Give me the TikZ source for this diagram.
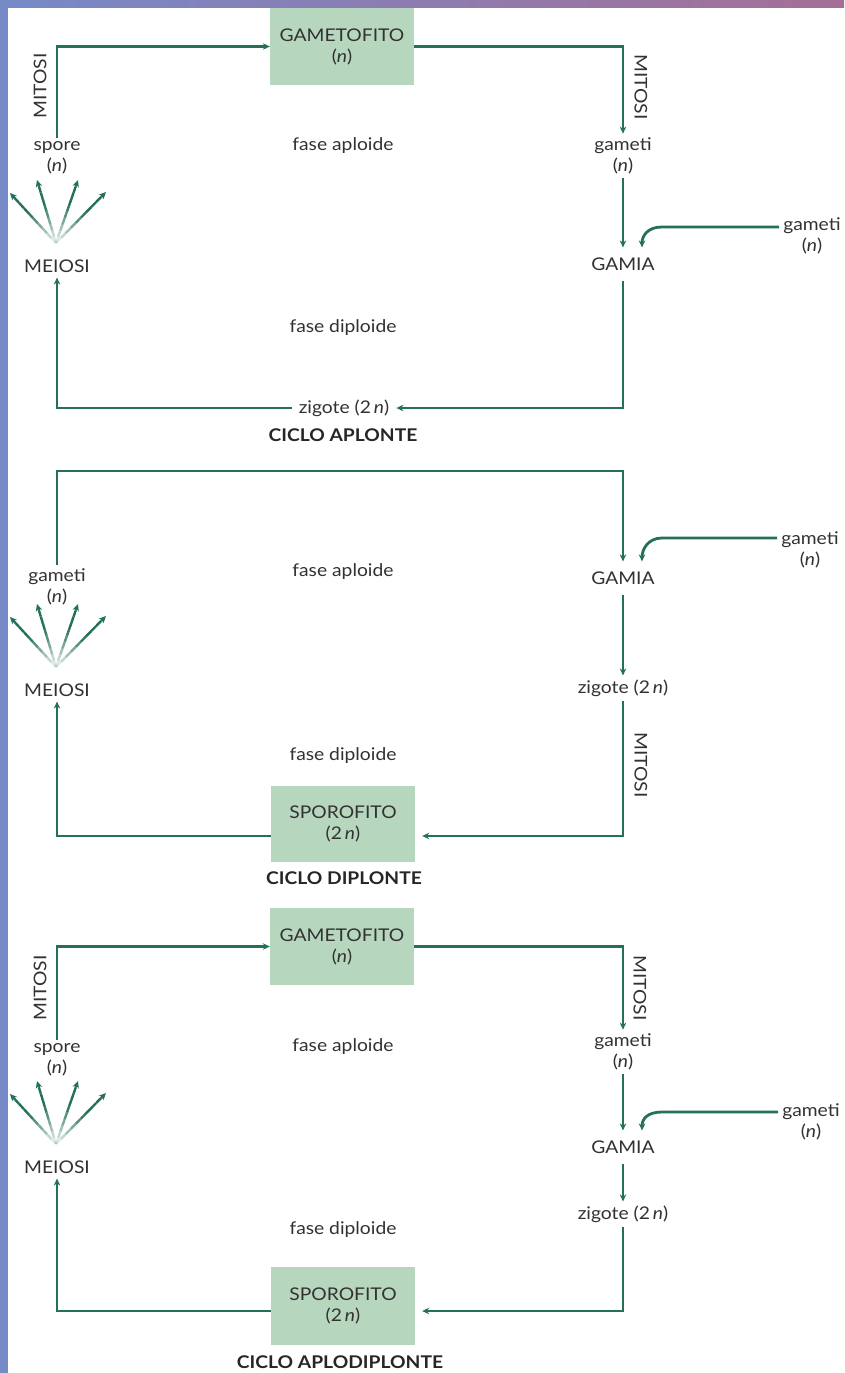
\documentclass[tikz,border=0pt]{standalone}
\usepackage{fontspec}
\setmainfont{Lato}[FakeStretch=1.1]
\usetikzlibrary{arrows.meta,calc}
\definecolor{lnc}{RGB}{36,112,88}
\definecolor{boxc}{RGB}{183,214,190}
\definecolor{txtc}{RGB}{50,50,50}
\definecolor{stripA}{RGB}{118,138,200}
\definecolor{stripB}{RGB}{165,110,150}
\tikzset{
 lbl/.style={text=txtc, font=\fontsize{17.5}{21}\selectfont, align=center, inner sep=4pt},
 gamia/.style={lbl, inner ysep=10pt},
 meio/.style={lbl, inner ysep=5pt},
 zig/.style={lbl, inner xsep=7pt},
 cbox/.style={lbl, fill=boxc, minimum width=144pt, minimum height=77pt},
 ttl/.style={text=black!85, font=\bfseries\fontsize{17.5}{20}\selectfont},
 ln/.style={draw=lnc, line width=2.8pt},
 arr/.style={ln, -{Stealth[length=7pt,width=6.5pt]}},
}
\newcommand{\meiofan}[1]{%
  \coordinate (#1fb) at ($(#1.center)+(-1,-23)$);
  \foreach \dx/\dy [count=\k] in {-47/-73,-20/-86,21/-86,49/-74}{%
    \coordinate (#1ft\k) at ($(#1.center)+(\dx,\dy)$);
    \foreach \i in {0,...,8}{%
      \pgfmathsetmacro\op{min(1,0.12+0.16*\i)}%
      \draw[ln, line width=2.4pt, draw opacity=\op] ($(#1fb)!\i/10!(#1ft\k)$) -- ($(#1fb)!\i/10+0.1!(#1ft\k)$);
    }
    \draw[arr, line width=2.4pt] ($(#1fb)!0.9!(#1ft\k)$) -- (#1ft\k);
  }}
\newcommand{\gamcurve}[3]{%
  \coordinate (#1k) at ($(#1.west)+(0,#3)$);
  \draw[arr] (#1k) -- ($(#1k -| #2.north)+(39,0)$) .. controls +(-14,0) and ($(#2.north)+(19,-12)$) .. ($(#2.north)+(19,0)$);}
\begin{document}
\begin{tikzpicture}[x=1pt,y=-1pt]
\fill[white] (0,0) rectangle (844,1373);
\fill[stripA] (0,0) rectangle (8,1373);
\shade[left color=stripA, right color=stripB] (0,0) rectangle (844,7);

% ---------- panel 1: ciclo aplonte
\node[cbox] (G1) at (342,46.5) {GAMETOFITO\\(\textit{n})};
\node[lbl] (sp1) at (57,158) {spore\\(\textit{n})};
\node[meio] (me1) at (57,266) {MEIOSI};
\node[lbl, rotate=90] (m1L) at (40,86) {MITOSI};
\node[lbl, rotate=-90] (m1R) at (641,87) {MITOSI};
\node[lbl] (gm1) at (623,156) {gameti\\(\textit{n})};
\node[gamia] (GA1) at (623,264) {GAMIA};
\node[lbl] (gr1) at (812,236) {gameti\\(\textit{n})};
\node[lbl] (fa1) at (343,146) {fase aploide};
\node[lbl] (fd1) at (343,328) {fase diploide};
\node[zig] (z1) at (344,408) {zigote (2\,\textit{n})};
\node[ttl] (t1) at (343,435) {CICLO APLONTE};
\draw[arr] (sp1.north) |- (G1.west);
\draw[arr] (G1.east) -| (gm1.north);
\draw[arr] (gm1.south) -- (GA1.north);
\gamcurve{gr1}{GA1}{-9}
\draw[arr] (GA1.south) |- (z1.east);
\draw[arr] (z1.west) -| (me1.south);
\meiofan{me1}

% ---------- panel 2: ciclo diplonte
\coordinate (c2) at (623,471);
\node[lbl] (gm2) at (57,587) {gameti\\(\textit{n})};
\node[meio] (me2) at (57,690) {MEIOSI};
\node[gamia] (GA2) at (623,578) {GAMIA};
\node[lbl] (gr2) at (810,550) {gameti\\(\textit{n})};
\node[lbl] (z2) at (623,688) {zigote (2\,\textit{n})};
\node[lbl, rotate=-90] (m2R) at (641,765) {MITOSI};
\node[cbox, minimum height=76pt] (S2) at (343,824) {SPOROFITO\\(2\,\textit{n})};
\node[lbl] (fa2) at (343,572) {fase aploide};
\node[lbl] (fd2) at (343,756) {fase diploide};
\node[ttl] (t2) at (344,878) {CICLO DIPLONTE};
\draw[arr] (gm2.north) |- (c2) -- (GA2.north);
\gamcurve{gr2}{GA2}{-12}
\draw[arr] (GA2.south) -- (z2.north);
\draw[arr] (z2.south) |- ($(S2.east)+(7,12)$);
\draw[arr] ($(S2.west)+(0,12)$) -| (me2.south);
\meiofan{me2}

% ---------- panel 3: ciclo aplodiplonte
\node[cbox] (G3) at (342,946.5) {GAMETOFITO\\(\textit{n})};
\node[lbl] (sp3) at (57,1060) {spore\\(\textit{n})};
\node[meio] (me3) at (57,1167) {MEIOSI};
\node[lbl, rotate=90] (m3L) at (40,988) {MITOSI};
\node[lbl, rotate=-90] (m3R) at (640,988) {MITOSI};
\node[lbl] (gm3) at (623,1052) {gameti\\(\textit{n})};
\node[gamia] (GA3) at (623,1147) {GAMIA};
\node[lbl] (gr3) at (811,1122) {gameti\\(\textit{n})};
\node[lbl] (z3) at (623,1214) {zigote (2\,\textit{n})};
\node[cbox, minimum height=78pt] (S3) at (343,1306) {SPOROFITO\\(2\,\textit{n})};
\node[lbl] (fa3) at (343,1047) {fase aploide};
\node[lbl] (fd3) at (343,1230) {fase diploide};
\node[ttl] (t3) at (340,1362) {CICLO APLODIPLONTE};
\draw[arr] (sp3.north) |- (G3.west);
\draw[arr] (G3.east) -| (gm3.north);
\draw[arr] (gm3.south) -- (GA3.north);
\gamcurve{gr3}{GA3}{-10}
\draw[arr] (GA3.south) -- (z3.north);
\draw[arr] (z3.south) |- ($(S3.east)+(7,5)$);
\draw[arr] ($(S3.west)+(0,5)$) -| (me3.south);
\meiofan{me3}
\end{tikzpicture}
\end{document}
